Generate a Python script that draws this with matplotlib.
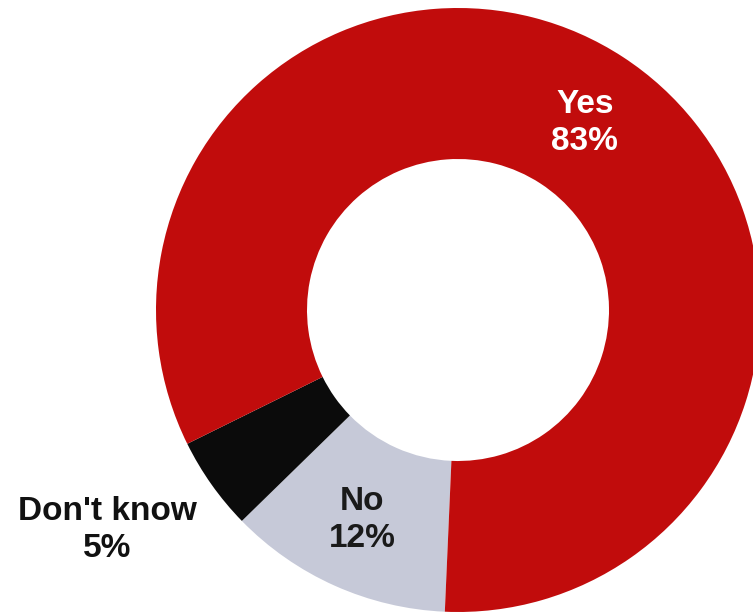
import matplotlib.pyplot as plt

# draw order: clockwise from the bottom
labels = ["No", "Don't know", "Yes"]
shares = [12, 5, 83]
colors = ["#C6C9D8", "#0B0B0B", "#C10C0C"]

fig = plt.figure(figsize=(7.53, 6.15), dpi=100)
ax = fig.add_axes([0, 0, 1, 1])

ax.pie(shares, colors=colors, startangle=-92.5, counterclock=False,
       radius=1.0, wedgeprops=dict(width=0.5, linewidth=0))

font = dict(family=["Liberation Sans", "DejaVu Sans"], fontsize=24,
            fontweight="bold", ha="center", va="center", linespacing=1.25)

ax.text(0.42, 0.62, f"{labels[2]}\n{shares[2]}%", color="white", **font)
ax.text(-0.318, -0.695, f"{labels[0]}\n{shares[0]}%", color="#1A1A1A", **font)
ax.text(-1.162, -0.728, f"{labels[1]}\n{shares[1]}%", color="#111111", **font)

ax.set_xlim(-458 / 302, (753 - 458) / 302)
ax.set_ylim(-(615 - 310) / 302, 310 / 302)
ax.set_aspect("equal")
ax.axis("off")

fig.savefig("out.png", dpi=100)
